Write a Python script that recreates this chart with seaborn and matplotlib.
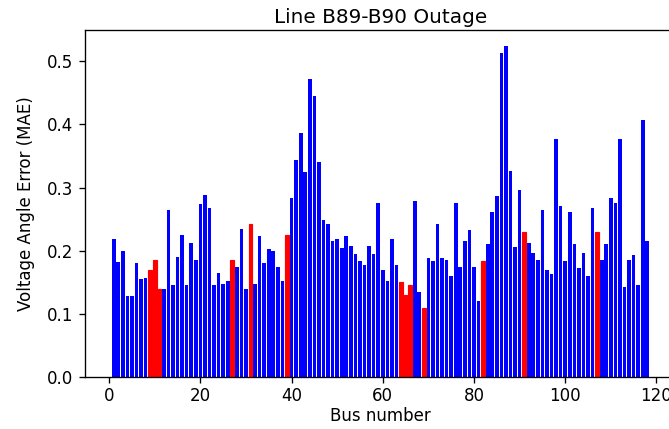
import matplotlib
matplotlib.use("Agg")
import matplotlib.pyplot as plt
import seaborn as sns
import pandas as pd

buses = list(range(1, 119))
errors = [
    0.218, 0.182, 0.200, 0.128, 0.128, 0.180, 0.155, 0.157, 0.170, 0.185,
    0.140, 0.140, 0.264, 0.145, 0.190, 0.225, 0.145, 0.213, 0.185, 0.274,
    0.288, 0.268, 0.145, 0.165, 0.147, 0.152, 0.185, 0.175, 0.235, 0.140,
    0.243, 0.147, 0.223, 0.180, 0.203, 0.200, 0.175, 0.152, 0.225, 0.283,
    0.344, 0.387, 0.324, 0.472, 0.445, 0.341, 0.248, 0.243, 0.215, 0.218,
    0.205, 0.223, 0.208, 0.195, 0.183, 0.178, 0.208, 0.195, 0.276, 0.170,
    0.152, 0.218, 0.178, 0.150, 0.130, 0.145, 0.279, 0.135, 0.110, 0.188,
    0.183, 0.243, 0.188, 0.185, 0.160, 0.276, 0.175, 0.215, 0.233, 0.175,
    0.120, 0.183, 0.210, 0.261, 0.286, 0.513, 0.524, 0.326, 0.206, 0.296,
    0.230, 0.213, 0.196, 0.185, 0.264, 0.170, 0.163, 0.377, 0.271, 0.183,
    0.261, 0.210, 0.173, 0.196, 0.160, 0.268, 0.230, 0.185, 0.210, 0.284,
    0.276, 0.377, 0.143, 0.185, 0.193, 0.146, 0.407, 0.216,
]
red_buses = [9, 10, 11, 27, 31, 39, 64, 65, 66, 69, 82, 91, 107]

df = pd.DataFrame({
    "bus": buses,
    "err": errors,
    "kind": ["red" if b in red_buses else "blue" for b in buses],
})

DPI = 120
fig = plt.figure(figsize=(669 / DPI, 429 / DPI), dpi=DPI)
ax = fig.add_axes([85 / 669, 52 / 429, 591 / 669, 347 / 429])

sns.barplot(data=df, x="bus", y="err", hue="kind",
            palette={"blue": "#0000ff", "red": "#ff0000"},
            native_scale=True, dodge=False, errorbar=None,
            saturation=1, legend=False, linewidth=0, ax=ax)

for p in ax.patches:
    fc = p.get_facecolor()
    if fc[0] > 0.9 and fc[2] < 0.1:
        p.set_edgecolor("#ff0000")
        p.set_linewidth(0.7)

ax.set_xlim(-5.29, 124.29)
ax.set_ylim(0, 0.5497)
ax.set_xticks([0, 20, 40, 60, 80, 100, 120])
ax.set_yticks([0.0, 0.1, 0.2, 0.3, 0.4, 0.5])
ax.tick_params(axis="x", pad=2.5)
ax.set_title("Line B89-B90 Outage", pad=4)
ax.set_xlabel("Bus number", labelpad=1)
ax.set_ylabel("Voltage Angle Error (MAE)", labelpad=7)

fig.savefig("out.png", dpi=DPI)
